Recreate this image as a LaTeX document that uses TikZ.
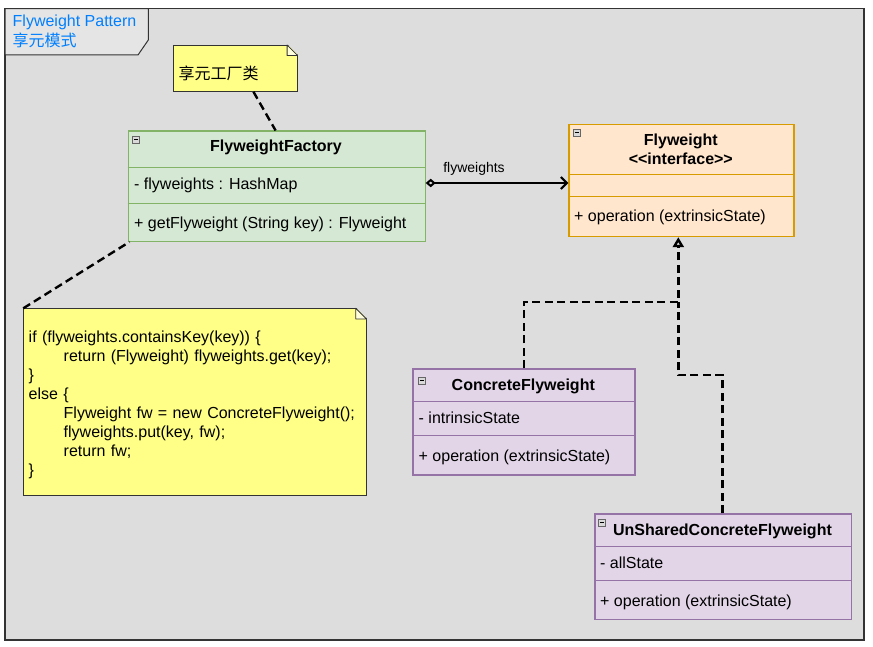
\documentclass[tikz,border=0pt]{standalone}
\usepackage{fontspec}
\setmainfont{Liberation Sans}
\newfontfamily\cjk{Noto Sans CJK SC}
\usepackage{tikz}
\usetikzlibrary{positioning,arrows.meta,calc}
\definecolor{fwbg}{RGB}{221,221,221}
\definecolor{fwtab}{RGB}{229,229,229}
\definecolor{fwframe}{RGB}{51,51,51}
\definecolor{fwblue}{RGB}{0,127,255}
\definecolor{notefill}{RGB}{255,255,136}
\definecolor{facfill}{RGB}{213,232,212}
\definecolor{facline}{RGB}{130,179,102}
\definecolor{ifcfill}{RGB}{255,230,204}
\definecolor{ifcline}{RGB}{215,155,0}
\definecolor{cfill}{RGB}{225,213,231}
\definecolor{cline}{RGB}{150,115,166}
\newcommand{\fwfont}{\fontsize{16}{19}\selectfont}
% collapse icon: \fwicon{x}{y}
\newcommand{\fwicon}[2]{%
  \draw[black!60,fill=white!85!black,line width=0.6pt] (#1,#2) rectangle (#1+7,#2+7);%
  \draw[black,line width=0.8pt] (#1+1.6,#2+3.5) -- (#1+5.4,#2+3.5);}
\tikzset{
  fwbox/.style={rectangle,anchor=north west,line width=1.2pt,inner sep=0pt},
  fwtitle/.style={font=\fwfont\bfseries,anchor=base,inner sep=0pt},
  fwmember/.style={font=\fwfont,anchor=base west,inner sep=0pt},
  notebox/.style={rectangle,anchor=north west,draw=black!80,fill=notefill,line width=0.8pt,inner sep=0pt},
  notelink/.style={draw=black,line width=2.4pt,dash pattern=on 8pt off 4.5pt},
  realize/.style={draw=black,line width=2.4pt,dash pattern=on 8pt off 4.5pt},
}
\begin{document}
\begin{tikzpicture}[x=1pt,y=-1pt]
  \useasboundingbox (0,0) rectangle (873,647);
  % --- frame and title tab ---
  \draw[fwframe,fill=fwbg,line width=1.2pt] (5,8.7) rectangle (864,640);
  \draw[fwframe,fill=fwtab,line width=1pt] (5,8.7) -- (148.3,8.7) -- (148.3,40) -- (138,55) -- (5,55) -- cycle;
  \node[font=\fwfont,text=fwblue,anchor=base west,inner sep=0pt] (title) at (12.5,26.5) {Flyweight Pattern};
  \node[font=\fwfont\cjk,text=fwblue,anchor=base west,inner sep=0pt] (subtitle) at (12.5,46.5) {享元模式};
  % --- note: factory ---
  \node[notebox,minimum width=123.5pt,minimum height=46pt] (tag) at (173.3,45) {};
  \fill[fwbg] ($(tag.north east)+(-10.5,-1)$) -- ($(tag.north east)+(1,-1)$) -- ($(tag.north east)+(1,10.5)$) -- cycle;
  \draw[black!80,fill=white!70!notefill,line width=0.8pt,line join=round]
    ($(tag.north east)+(-10.5,0)$) -- ($(tag.north east)+(0,10.5)$) -- ($(tag.north east)+(-10.5,10.5)$) -- cycle;
  \node[font=\fwfont\cjk,anchor=base west,inner sep=0pt] (tagtext) at (178.5,79.5) {享元工厂类};
  % --- FlyweightFactory ---
  \node[fwbox,draw=facline,fill=facfill,minimum width=297pt,minimum height=110.2pt] (fac) at (127.5,130.5) {};
  \draw[facline,line width=1.2pt] (127.5,167.3) -- (424.5,167.3) (127.5,203.5) -- (424.5,203.5);
  \fwicon{132.7}{136}
  \node[fwtitle] (facname) at (276,152) {FlyweightFactory};
  \node[fwmember] (facattr) at (134,190) {- flyweights : HashMap};
  \node[fwmember] (facop) at (134,228.5) {+ getFlyweight (String key) : Flyweight};
  % --- Flyweight interface ---
  \node[fwbox,draw=ifcline,fill=ifcfill,minimum width=225pt,minimum height=111.7pt] (fw) at (568.3,124.3) {};
  \draw[ifcline,line width=1.2pt] (568.3,174.3) -- (793.3,174.3) (568.3,196.3) -- (793.3,196.3);
  \fwicon{573.3}{129.3}
  \node[fwtitle] (fwname) at (680.8,146) {Flyweight};
  \node[fwtitle] (fwstereo) at (680.8,165) {<{}<interface>{}>};
  \node[fwmember] (fwop) at (574,221.5) {+ operation (extrinsicState)};
  % --- ConcreteFlyweight ---
  \node[fwbox,draw=cline,fill=cfill,minimum width=222pt,minimum height=106pt] (cf) at (412.3,368.3) {};
  \draw[cline,line width=1.2pt] (412.3,401.7) -- (634.3,401.7) (412.3,435.7) -- (634.3,435.7);
  \fwicon{418.3}{377.3}
  \node[fwtitle] (cfname) at (523.3,390) {ConcreteFlyweight};
  \node[fwmember] (cfattr) at (418.5,423.5) {- intrinsicState};
  \node[fwmember] (cfop) at (418.5,461) {+ operation (extrinsicState)};
  % --- UnSharedConcreteFlyweight ---
  \node[fwbox,draw=cline,fill=cfill,minimum width=256.4pt,minimum height=105.7pt] (ucf) at (594.3,513.3) {};
  \draw[cline,line width=1.2pt] (594.3,546.7) -- (850.7,546.7) (594.3,580.7) -- (850.7,580.7);
  \fwicon{598.3}{519}
  \node[fwtitle] (ucfname) at (722.5,535) {UnSharedConcreteFlyweight};
  \node[fwmember] (ucfattr) at (600,568) {- allState};
  \node[fwmember] (ucfop) at (600,606) {+ operation (extrinsicState)};
  % --- note: getFlyweight body ---
  \node[notebox,minimum width=342.4pt,minimum height=186.7pt] (code) at (23.3,308.3) {};
  \fill[fwbg] ($(code.north east)+(-10.7,-1)$) -- ($(code.north east)+(1,-1)$) -- ($(code.north east)+(1,10.7)$) -- cycle;
  \draw[black!80,fill=white!70!notefill,line width=0.8pt,line join=round]
    ($(code.north east)+(-10.7,0)$) -- ($(code.north east)+(0,10.7)$) -- ($(code.north east)+(-10.7,10.7)$) -- cycle;
  \node[font=\fwfont,align=left,text width=331pt,inner sep=0pt,anchor=north west] (codetext) at (28.5,330.5) {%
    if (flyweights.containsKey(key)) \{\\
    \hspace*{35pt}return (Flyweight) flyweights.get(key);\\
    \}\\
    else \{\\
    \hspace*{35pt}Flyweight fw = new ConcreteFlyweight();\\
    \hspace*{35pt}flyweights.put(key, fw);\\
    \hspace*{35pt}return fw;\\
    \}};
  % --- connectors ---
  \coordinate (assoc) at (0,183);
  \draw[notelink] ([xshift=18pt]tag.south) -- ([xshift=-1pt]fac.north);
  \draw[notelink] (code.north west) -- ([xshift=2pt]fac.south west);
  \draw[line width=2pt,{Diamond[open,length=10pt,width=8.5pt]}-{Straight Barb[length=6pt,width=12pt]}]
    (fac.east |- assoc) -- node[font=\fontsize{14}{16}\selectfont,above=7pt,inner sep=0pt,xshift=-23pt] (asslabel) {flyweights} (fw.west |- assoc);
  \coordinate (join) at (678.3,301.7);
  \coordinate (bend) at (678.3,375);
  \draw[realize] ([xshift=-0.5pt]ucf.north) |- (bend) -- (join);
  \draw[realize,-{Triangle[open,length=10pt,width=11pt]}] (cf.north) |- (join) -- (join |- fw.south);
\end{tikzpicture}
\end{document}
